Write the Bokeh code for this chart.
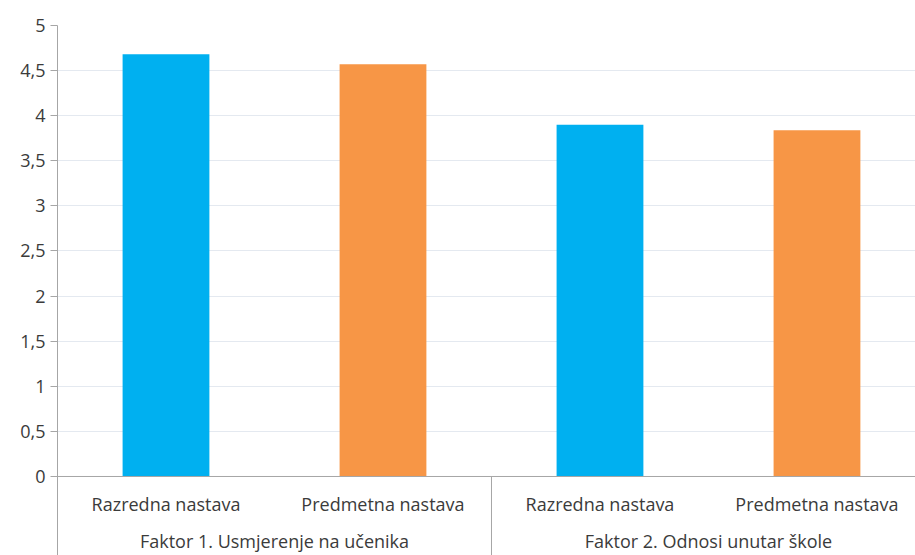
from bokeh.plotting import figure
from bokeh.models import Range1d, FixedTicker, Span, ColumnDataSource
from bokeh.core.properties import value
from bokeh.embed import file_html
from bokeh.resources import INLINE

# ---- data ----
groups = ["Faktor 1. Usmjerenje na učenika", "Faktor 2. Odnosi unutar škole"]
categories = ["Razredna nastava", "Predmetna nastava", "Razredna nastava", "Predmetna nastava"]
values = [4.68, 4.57, 3.90, 3.84]
bar_colors = ["#00B0F0", "#F79646", "#00B0F0", "#F79646"]
y_ticks = [0, 0.5, 1, 1.5, 2, 2.5, 3, 3.5, 4, 4.5, 5]
y_tick_labels = ["0", "0,5", "1", "1,5", "2", "2,5", "3", "3,5", "4", "4,5", "5"]

FONT = "Open Sans"
TXT = "#3b3b3b"
AXC = "#a6a6a6"

n = len(categories)
per_group = n // len(groups)
xc = [i + 0.5 for i in range(n)]
gx = [g * per_group + per_group / 2 for g in range(len(groups))]
bounds = [g * per_group for g in range(1, len(groups))]

y_start = -0.876
p = figure(width=915, height=555, output_backend="svg", toolbar_location=None,
           x_range=Range1d(0, 3.954), y_range=Range1d(y_start, 5),
           min_border_left=57, min_border_right=0, min_border_top=25, min_border_bottom=0)
p.outline_line_color = None
p.xaxis.visible = False
p.xgrid.visible = False

p.yaxis.ticker = FixedTicker(ticks=y_ticks)
p.yaxis.major_label_overrides = {t: l for t, l in zip(y_ticks, y_tick_labels)}
p.yaxis.axis_line_color = AXC
p.yaxis.major_tick_line_color = AXC
p.yaxis.major_tick_out = 7
p.yaxis.major_tick_in = 0
p.yaxis.minor_tick_line_color = None
p.yaxis.major_label_standoff = 5
p.yaxis.major_label_text_font = FONT
p.yaxis.major_label_text_font_size = "18px"
p.yaxis.major_label_text_color = TXT

p.ygrid.ticker = FixedTicker(ticks=y_ticks)
p.ygrid.grid_line_color = "#e4e9f0"
p.ygrid.grid_line_width = 1

src = ColumnDataSource(dict(x=xc, top=values, color=bar_colors, label=categories))
p.vbar(x="x", top="top", bottom=0, width=0.4, fill_color="color", line_color=None, source=src)

p.add_layout(Span(location=0, dimension="width", line_color=AXC, line_width=1))

p.segment(x0=bounds, y0=[0] * len(bounds), x1=bounds, y1=[y_start] * len(bounds),
          line_color=AXC, line_width=1)

p.text(x="x", y=-0.31, text="label", source=src, text_align="center", text_baseline="middle",
       text_font=value(FONT), text_font_size="18px", text_color=TXT)
p.text(x=gx, y=[-0.71] * len(groups), text=groups, text_align="center", text_baseline="middle",
       text_font=value(FONT), text_font_size="18px", text_color=TXT)

open("out.html", "w").write(file_html(p, INLINE))
